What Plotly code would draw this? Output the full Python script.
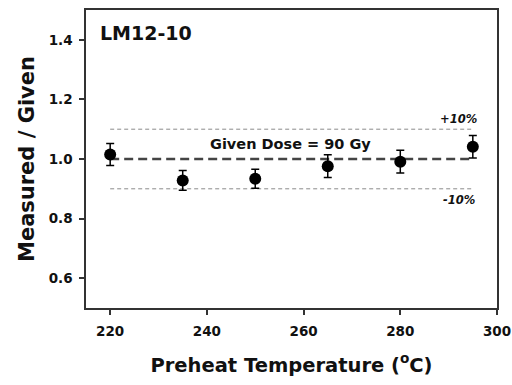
import plotly.graph_objects as go

temps = [220, 235, 250, 265, 280, 295]
ratio = [1.015, 0.928, 0.934, 0.976, 0.991, 1.041]
err = [0.037, 0.033, 0.032, 0.038, 0.038, 0.038]
ref_x = [220, 295]
given = [1.0, 1.0]
upper = [1.1, 1.1]
lower = [0.9, 0.9]
xticks = [220, 240, 260, 280, 300]
yticks = [0.6, 0.8, 1.0, 1.2, 1.4]

fig = go.Figure()
fig.add_trace(go.Scatter(x=ref_x, y=upper, mode="lines",
                         line=dict(color="#8a8a8a", width=1, dash="4px,3px"), hoverinfo="skip"))
fig.add_trace(go.Scatter(x=ref_x, y=lower, mode="lines",
                         line=dict(color="#8a8a8a", width=1, dash="4px,3px"), hoverinfo="skip"))
fig.add_trace(go.Scatter(x=ref_x, y=given, mode="lines",
                         line=dict(color="#444444", width=2.5, dash="9px,5px"), hoverinfo="skip"))
fig.add_trace(go.Scatter(x=temps, y=ratio, mode="markers",
                         marker=dict(color="black", size=12),
                         error_y=dict(type="data", array=err, color="black", thickness=1.5, width=4)))

font = "DejaVu Sans, Liberation Sans, sans-serif"
fig.update_layout(
    width=512, height=385, showlegend=False,
    margin=dict(l=86, r=15, t=10, b=77),
    paper_bgcolor="white", plot_bgcolor="white",
    font=dict(family=font, color="#111111"),
    xaxis=dict(range=[215, 300], tickvals=xticks, ticks="outside", ticklen=5, tickwidth=1.5,
               tickcolor="#333", showline=True, linecolor="#333", linewidth=1.5, mirror=True,
               showgrid=False, zeroline=False, automargin=False, ticklabelstandoff=5,
               tickfont=dict(size=13.5, family=font, weight="bold"),
               title=dict(text="Preheat Temperature (<sup>o</sup>C)", standoff=20,
                          font=dict(size=19.5, family=font, weight="bold"))),
    yaxis=dict(range=[0.5, 1.5], tickvals=yticks, tickformat=".1f", ticks="outside", ticklen=5,
               tickwidth=1.5, tickcolor="#333", showline=True, linecolor="#333", linewidth=1.5,
               mirror=True, showgrid=False, zeroline=False, automargin=False, ticklabelstandoff=4,
               tickfont=dict(size=13.5, family=font, weight="bold"),
               title=dict(text="Measured / Given", standoff=8,
                          font=dict(size=21, family=font, weight="bold"))),
    annotations=[
        dict(x=0.03, y=0.965, xref="paper", yref="paper", xanchor="left", yanchor="top",
             text="<b>LM12-10</b>", showarrow=False, font=dict(size=19, family=font)),
        dict(x=257.2, y=1.05, xref="x", yref="y", text="<b>Given Dose = 90 Gy</b>",
             showarrow=False, font=dict(size=14.5, family=font)),
        dict(x=292.1, y=1.133, xref="x", yref="y", text="<b><i>+10%</i></b>",
             showarrow=False, font=dict(size=11.5, family=font)),
        dict(x=292.1, y=0.862, xref="x", yref="y", text="<b><i>-10%</i></b>",
             showarrow=False, font=dict(size=11.5, family=font)),
    ],
)
fig.write_html("out.html")
